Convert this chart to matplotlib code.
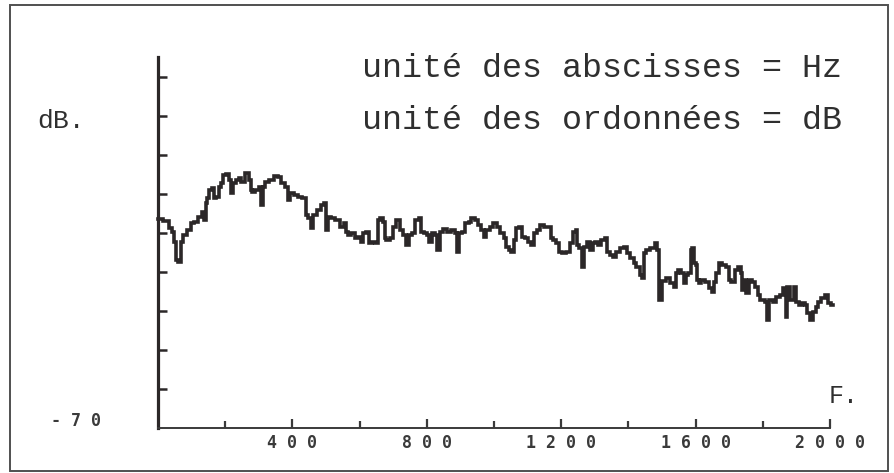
import matplotlib
matplotlib.use("Agg")
import matplotlib.pyplot as plt
from matplotlib.patches import Rectangle

# ---- data ----
freq_hz = [0, 27, 36, 45, 51, 57, 65, 71, 80, 95, 101, 116, 125, 134, 140, 143, 149, 155, 164, 170,
           176, 185, 190, 199, 208, 214, 220, 229, 238, 244, 253, 265, 274, 277, 283, 295, 304, 310, 315, 324,
           339, 354, 363, 372, 384, 387, 399, 408, 423, 437, 443, 452, 458, 467, 482, 491, 497, 503, 509, 521,
           533, 548, 557, 562, 571, 580, 592, 601, 607, 616, 625, 631, 640, 652, 655, 667, 673, 676, 684, 696,
           705, 714, 726, 735, 744, 750, 759, 771, 780, 786, 795, 804, 812, 818, 830, 833, 845, 854, 869, 878,
           887, 893, 899, 908, 920, 929, 937, 949, 958, 967, 973, 982, 994, 1003, 1012, 1024, 1033, 1039, 1048, 1056,
           1062, 1068, 1083, 1086, 1098, 1107, 1116, 1122, 1131, 1143, 1152, 1167, 1173, 1181, 1190, 1196, 1211, 1220, 1232, 1241,
           1247, 1250, 1256, 1265, 1271, 1280, 1292, 1295, 1306, 1315, 1324, 1336, 1339, 1351, 1360, 1369, 1381, 1390, 1399, 1411,
           1420, 1428, 1440, 1443, 1449, 1458, 1473, 1485, 1488, 1494, 1506, 1518, 1530, 1539, 1545, 1553, 1562, 1568, 1574, 1583,
           1589, 1592, 1598, 1604, 1607, 1613, 1622, 1634, 1643, 1652, 1658, 1664, 1673, 1687, 1696, 1702, 1711, 1723, 1732, 1738,
           1741, 1747, 1753, 1762, 1771, 1783, 1786, 1800, 1812, 1815, 1824, 1836, 1845, 1857, 1866, 1872, 1875, 1887, 1896, 1902,
           1911, 1920, 1931, 1934, 1946, 1955, 1961, 1970, 1979, 1991, 2000, 2008]
level_db = [-16.4, -16.9, -18.7, -19.7, -22.3, -26.9, -27.4, -22.3, -20.5, -19.2, -17.4, -17.2, -15.9, -14.6, -16.7, -12.3, -11.0, -9.0, -8.5, -11.0,
            -10.8, -8.2, -7.2, -5.1, -4.9, -6.4, -9.7, -7.2, -6.4, -5.9, -6.9, -4.6, -6.4, -9.0, -9.5, -9.0, -8.2, -12.8, -8.2, -6.9,
            -6.4, -5.4, -5.6, -7.2, -8.2, -11.5, -9.7, -10.3, -10.8, -11.0, -15.4, -16.2, -18.7, -15.4, -14.1, -12.8, -12.3, -19.2, -15.9, -16.2,
            -16.7, -18.5, -17.4, -19.7, -20.5, -20.0, -21.3, -21.0, -22.3, -20.0, -19.7, -22.6, -22.3, -22.6, -16.7, -16.2, -17.2, -21.3, -21.8, -21.3,
            -18.5, -16.7, -19.2, -20.5, -23.1, -20.5, -20.0, -16.7, -16.2, -19.7, -20.0, -20.5, -22.3, -20.0, -20.5, -24.4, -19.7, -19.0, -19.7, -19.2,
            -20.0, -24.9, -20.0, -19.7, -17.4, -17.2, -16.2, -16.7, -17.9, -19.2, -21.0, -19.2, -18.5, -17.4, -18.5, -20.0, -21.3, -23.6, -24.4, -24.9,
            -21.8, -18.7, -18.5, -21.0, -21.3, -22.3, -23.1, -20.0, -19.2, -17.9, -18.5, -18.5, -21.3, -21.8, -22.6, -24.9, -25.1, -24.9, -22.6, -19.7,
            -19.2, -23.1, -23.8, -28.7, -23.6, -22.3, -24.4, -22.6, -22.3, -23.1, -21.8, -21.3, -24.9, -25.6, -26.2, -24.9, -23.8, -23.6, -25.1, -26.4,
            -27.7, -28.7, -30.8, -31.5, -25.1, -24.4, -23.8, -22.6, -24.4, -37.2, -32.3, -31.5, -32.8, -33.8, -30.3, -29.5, -30.3, -32.8, -30.8, -30.3,
            -24.4, -23.8, -27.7, -28.2, -32.1, -32.8, -32.1, -32.6, -34.1, -35.1, -32.6, -30.3, -27.7, -28.2, -28.7, -32.1, -32.6, -29.5, -28.7, -30.3,
            -34.6, -32.1, -35.4, -32.1, -32.6, -33.8, -35.9, -37.2, -37.7, -42.3, -37.2, -37.7, -36.4, -35.9, -34.1, -41.5, -33.8, -37.2, -33.8, -37.7,
            -38.5, -37.9, -38.5, -40.5, -42.3, -40.3, -39.0, -37.7, -36.7, -35.9, -37.9, -38.5]

x_major_ticks = [400, 800, 1200, 1600, 2000]
x_tick_labels = ["400", "800", "1200", "1600", "2000"]
x_minor_ticks = [200, 600, 1000, 1400, 1800]
y_ticks = [-60, -50, -40, -30, -20, -10, 0, 10, 20]
y_bottom_label = "-70"
y_unit_label = "dB."
x_unit_label = "F."
legend_lines = ["unité des abscisses = Hz", "unité des ordonnées = dB"]

# ---- figure ----
W, H = 895, 473
fig = plt.figure(figsize=(W / 100, H / 100), dpi=100)

# outer frame
fig.patches.append(Rectangle((10 / W, 2 / H), 878 / W, 466 / H, transform=fig.transFigure,
                             fill=False, edgecolor="#505050", linewidth=1.4))

ax = fig.add_axes([158 / W, (H - 428) / H, 672 / W, 371 / H])
ax.set_xlim(0, 2000)
ax.set_ylim(-70, 25.1)

line_color = "#2b2728"
ax.plot(freq_hz, level_db, drawstyle="steps-mid", color=line_color, linewidth=2.6,
        solid_joinstyle="miter", clip_on=False)

for s in ("top", "right"):
    ax.spines[s].set_visible(False)
ax.spines["left"].set_linewidth(2.3)
ax.spines["left"].set_color(line_color)
ax.spines["bottom"].set_linewidth(1.4)
ax.spines["bottom"].set_color("#3a3a3a")

ax.set_xticks(x_major_ticks)
ax.set_xticklabels([" ".join(t) for t in x_tick_labels],
                   fontfamily="DejaVu Sans Mono", fontweight="bold", fontsize=12, color="#3a3a3a")
ax.set_xticks(x_minor_ticks, minor=True)
ax.tick_params(axis="x", which="major", direction="in", length=6.5, width=1.6, pad=4, color="#3a3a3a")
ax.tick_params(axis="x", which="minor", direction="in", length=5, width=1.6, color="#3a3a3a")

ax.set_yticks(y_ticks)
ax.set_yticklabels([])
ax.tick_params(axis="y", which="major", direction="in", length=6.5, width=1.8, color=line_color)

# bottom y label
ax.text(-0.122, -68.2, " ".join(y_bottom_label), transform=ax.get_yaxis_transform(),
        ha="center", va="center", fontfamily="DejaVu Sans Mono", fontweight="bold",
        fontsize=12, color="#3a3a3a")

# unit labels
fig.text(37 / W, (H - 128) / H, y_unit_label, ha="left", va="baseline",
         fontfamily="Liberation Mono", fontsize=19, color="#2f2f2f")
fig.text(829 / W, (H - 403) / H, x_unit_label, ha="left", va="baseline",
         fontfamily="Liberation Mono", fontsize=18, color="#2f2f2f")

fig.text(362 / W, (H - 77) / H, legend_lines[0], ha="left", va="baseline",
         fontfamily="Liberation Mono", fontsize=24, color="#2f2f2f")
fig.text(362 / W, (H - 129) / H, legend_lines[1], ha="left", va="baseline",
         fontfamily="Liberation Mono", fontsize=24, color="#2f2f2f")

fig.savefig("out.png", dpi=100)
